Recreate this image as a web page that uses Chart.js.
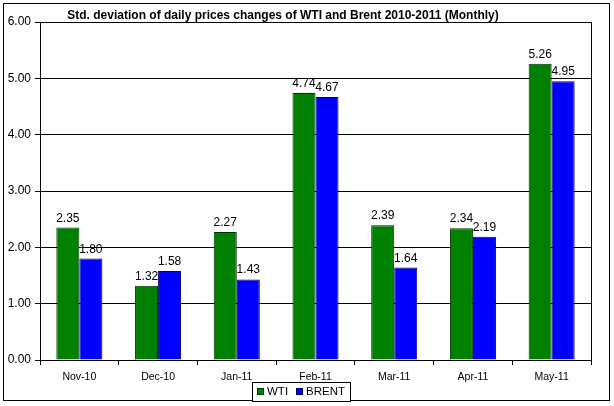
<!DOCTYPE html>
<html>
<head>
<meta charset="utf-8">
<script src="https://cdn.jsdelivr.net/npm/chart.js@4"></script>
<style>
html,body{margin:0;padding:0;background:#fff;}
#wrap{width:614px;height:406px;position:relative;}
</style>
</head>
<body>
<div id="wrap"><canvas id="c" width="614" height="406"></canvas></div>
<script>
const categories = ["Nov-10","Dec-10","Jan-11","Feb-11","Mar-11","Apr-11","May-11"];
const wtiValues = [2.35, 1.32, 2.27, 4.74, 2.39, 2.34, 5.26];
const brentValues = [1.80, 1.58, 1.43, 4.67, 1.64, 2.19, 4.95];
const seriesNames = ["WTI", "BRENT"];
const titleText = "Std. deviation of daily prices changes of WTI and Brent 2010-2011 (Monthly)";

const FONT = "'Liberation Sans', Arial, sans-serif";

const decor = {
  id: 'decor',
  beforeDraw(chart) {
    const ctx = chart.ctx;
    ctx.save();
    ctx.fillStyle = '#fff';
    ctx.fillRect(0, 0, chart.width, chart.height);
    ctx.restore();
  },
  afterDraw(chart) {
    const ctx = chart.ctx;
    const a = chart.chartArea;
    ctx.save();
    // plot border
    ctx.strokeStyle = '#000';
    ctx.lineWidth = 1;
    ctx.strokeRect(Math.round(a.left) + 0.5, Math.round(a.top) + 0.5, Math.round(a.right - a.left), Math.round(a.bottom - a.top));
    // outer border
    ctx.strokeRect(3.5, 3.5, 606, 397);
    // title
    ctx.fillStyle = '#000';
    ctx.font = "bold 12px 'Liberation Sans Narrow', 'Liberation Sans', Arial, sans-serif";
    ctx.textAlign = 'center';
    ctx.textBaseline = 'middle';
    ctx.fillText(titleText, 283, 16);
    // data labels
    ctx.font = "12px " + FONT;
    ctx.textBaseline = 'alphabetic';
    chart.data.datasets.forEach((ds, i) => {
      const meta = chart.getDatasetMeta(i);
      meta.data.forEach((bar, j) => {
        ctx.fillText(ds.data[j].toFixed(2), bar.x, bar.y - 6);
      });
    });
    // legend
    const lx = 252, ly = 382, lw = 98, lh = 19;
    ctx.fillStyle = '#fff';
    ctx.fillRect(lx, ly, lw, lh);
    ctx.strokeRect(lx + 0.5, ly + 0.5, lw, lh);
    ctx.font = "11.5px " + FONT;
    ctx.textAlign = 'left';
    ctx.textBaseline = 'middle';
    const items = [
      {x: 257, color: '#008000', border: '#003300', name: seriesNames[0]},
      {x: 296, color: '#0000FF', border: '#000060', name: seriesNames[1]}
    ];
    items.forEach(it => {
      ctx.fillStyle = it.color;
      ctx.fillRect(it.x, 388, 7, 7);
      ctx.strokeStyle = it.border;
      ctx.strokeRect(it.x + 0.5, 388.5, 6, 6);
      ctx.fillStyle = '#000';
      ctx.fillText(it.name, it.x + 10, 392);
    });
    ctx.restore();
  }
};

new Chart(document.getElementById('c'), {
  type: 'bar',
  data: {
    labels: categories,
    datasets: [
      {label: seriesNames[0], data: wtiValues, backgroundColor: '#008000', borderColor: '#003300', borderWidth: 1,
       categoryPercentage: 0.585, barPercentage: 1.0},
      {label: seriesNames[1], data: brentValues, backgroundColor: '#0000FF', borderColor: '#000060', borderWidth: 1,
       categoryPercentage: 0.585, barPercentage: 1.0}
    ]
  },
  options: {
    responsive: false,
    animation: false,
    devicePixelRatio: 1,
    layout: {padding: {top: 22, right: 23, bottom: 0, left: 0}},
    plugins: {legend: {display: false}, title: {display: false}, tooltip: {enabled: false}},
    scales: {
      x: {
        afterFit: s => { s.height = 46; },
        grid: {display: true, drawOnChartArea: false, offset: true, color: '#000', tickLength: 5, tickColor: '#000'},
        border: {display: true, color: '#000'},
        ticks: {color: '#000', font: {family: FONT, size: 10.5}, padding: 6, maxRotation: 0}
      },
      y: {
        min: 0, max: 6,
        afterFit: s => { s.width = 40; },
        grid: {color: '#000', tickLength: 5, tickColor: '#000'},
        border: {display: true, color: '#000'},
        ticks: {stepSize: 1, color: '#000', font: {family: FONT, size: 12}, padding: 4,
                callback: v => v.toFixed(2)}
      }
    }
  },
  plugins: [decor]
});
</script>
</body>
</html>
